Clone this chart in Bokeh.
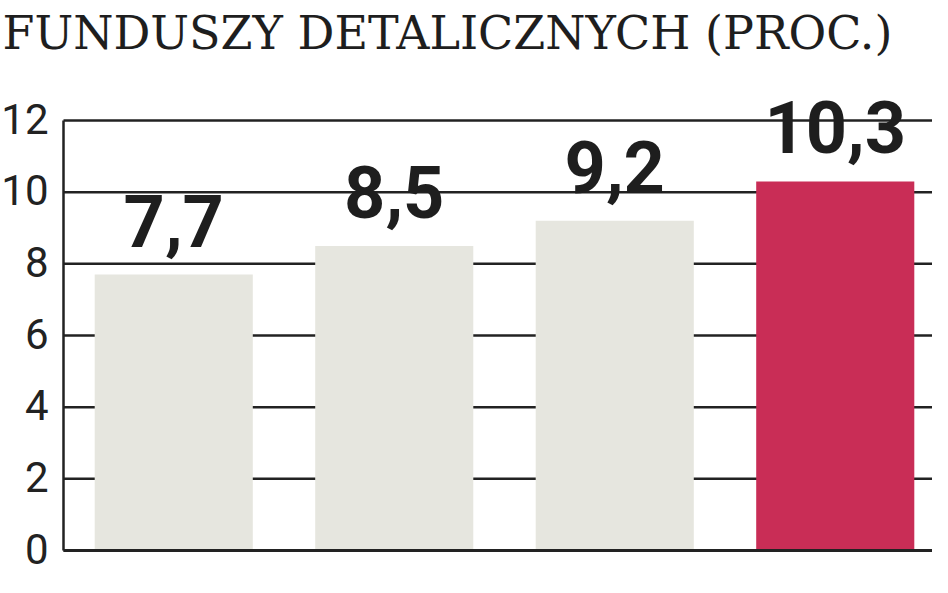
from bokeh.plotting import figure
from bokeh.models import Range1d, ColumnDataSource
from bokeh.embed import file_html
from bokeh.resources import INLINE
from bokeh.core.properties import value

# ---- data ----
title_text = "FUNDUSZY DETALICZNYCH (PROC.)"
values = [7.7, 8.5, 9.2, 10.3]
value_labels = ["7,7", "8,5", "9,2", "10,3"]
bar_colors = ["#e6e6df", "#e6e6df", "#e6e6df", "#c92d56"]
y_ticks = [0, 2, 4, 6, 8, 10, 12]
y_tick_labels = ["0", "2", "4", "6", "8", "10", "12"]

W, H = 932, 577
UNIT_X = 220.5       # px per category
AXIS_X_PX = 63       # canvas x of the y axis
ZERO_Y_PX = 550      # canvas y of value 0
TOP_Y_PX = 120       # canvas y of value 12
UNIT_Y = (ZERO_Y_PX - TOP_Y_PX) / 12.0

x_start = -AXIS_X_PX / UNIT_X
x_end = (W - AXIS_X_PX) / UNIT_X
y_end = ZERO_Y_PX / UNIT_Y
y_start = -(H - ZERO_Y_PX) / UNIT_Y

p = figure(width=W, height=H, output_backend="svg", toolbar_location=None,
           x_range=Range1d(x_start, x_end), y_range=Range1d(y_start, y_end),
           min_border=0)
p.axis.visible = False
p.grid.visible = False
p.outline_line_color = None
p.background_fill_color = "white"
p.border_fill_color = "white"

# grid lines (start at the axis)
n = len(values)
grid_src = ColumnDataSource(dict(x0=[0] * len(y_ticks), x1=[x_end + 0.05] * len(y_ticks),
                                 y=y_ticks))
p.segment(x0="x0", y0="y", x1="x1", y1="y", source=grid_src,
          line_color="#222222", line_width=2.5)

# bars
xs = [i + 0.5 for i in range(n)]
bar_src = ColumnDataSource(dict(x=xs, top=values, color=bar_colors, lab=value_labels))
p.vbar(x="x", top="top", bottom=0, width=0.717, fill_color="color",
       line_color=None, source=bar_src)

# baseline and y axis line
p.segment(x0=[0], y0=[0], x1=[x_end + 0.05], y1=[0], line_color="#222222", line_width=3)
p.segment(x0=[0], y0=[min(y_ticks)], x1=[0], y1=[max(y_ticks)],
          line_color="#222222", line_width=2.5)

# y tick labels
tick_src = ColumnDataSource(dict(x=[0] * len(y_ticks), y=y_ticks, t=y_tick_labels))
p.text(x="x", y="y", text="t", source=tick_src, x_offset=-15, y_offset=-2,
       text_align="right", text_baseline="middle",
       text_font=value("Roboto"), text_font_size="42px", text_color="#222222")

# value labels
p.text(x="x", y="top", text="lab", source=bar_src, y_offset=-54,
       text_align="center", text_baseline="alphabetic",
       text_font=value("Roboto"), text_font_style="bold",
       text_font_size="72px", text_color="#1e1e1e")

# title
p.text(x=[x_start], y=[y_end], text=[title_text], x_offset=2, y_offset=32,
       text_align="left", text_baseline="alphabetic",
       text_font=value("DejaVu Serif"), text_font_size="46px", text_color="#1e1e1e")

open("out.html", "w").write(file_html(p, INLINE))
